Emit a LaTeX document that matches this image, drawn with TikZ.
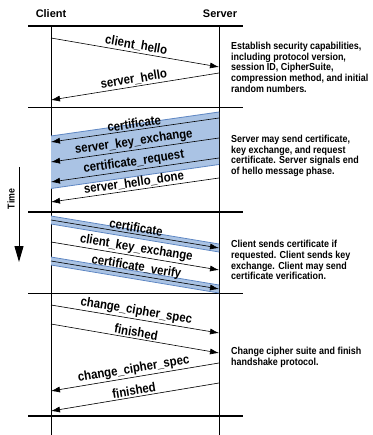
\documentclass[tikz,border=0pt]{standalone}
\usepackage{fontspec}
\setmainfont{Liberation Sans}
\newfontfamily\condfont[FakeStretch=0.88]{Liberation Sans}
\usetikzlibrary{arrows.meta}
\definecolor{bandfill}{RGB}{170,195,228}
\definecolor{bandedge}{RGB}{95,135,195}
\begin{document}
\begin{tikzpicture}[x=1bp,y=1bp,
  msg/.style={line width=0.6bp,-{Latex[length=9bp,width=6bp]}},
  lbl/.style={font=\condfont\bfseries\fontsize{13}{13}\selectfont, midway, sloped, above, inner sep=1.5bp},
  desc/.style={font=\condfont\bfseries\fontsize{10.2}{10.8}\selectfont, align=left, anchor=west, inner sep=0pt},
  head/.style={font=\bfseries\fontsize{11}{12}\selectfont, inner sep=0pt},
  hline/.style={line width=1.3bp},
  vline/.style={line width=0.6bp},
  bandline/.style={draw=bandedge, line width=0.8bp},
]
\useasboundingbox (0,0) rectangle (372,-435);

% headings
\node[head] (client) at (51,-14) {Client};
\node[head] (server) at (220,-14) {Server};

% lifelines
\coordinate (ctop) at (51,-26);
\coordinate (cbot) at (51,-435);
\coordinate (stop) at (219,-26);
\coordinate (sbot) at (219,-435);
\draw[vline] (ctop) -- (cbot);
\draw[vline] (stop) -- (sbot);

% phase separators
\foreach \i/\y in {1/-26,2/-107.5,3/-212,4/-293.5,5/-416}{
  \coordinate (h\i a) at (28,\y);
  \coordinate (h\i b) at (243,\y);
  \draw[hline] (h\i a) -- (h\i b);
}

% bands
\coordinate (b2a) at (51,-136);   \coordinate (b2b) at (219,-112);
\coordinate (b2c) at (219,-164.5);\coordinate (b2d) at (51,-188.5);
\fill[bandfill] (b2a) -- (b2b) -- (b2c) -- (b2d) -- cycle;
\draw[bandline] (b2a) -- (b2b);
\draw[bandline] (b2d) -- (b2c);

\coordinate (b3a) at (51,-216);  \coordinate (b3b) at (219,-244);
\coordinate (b3c) at (219,-252); \coordinate (b3d) at (51,-224);
\fill[bandfill] (b3a) -- (b3b) -- (b3c) -- (b3d) -- cycle;
\draw[bandline] (b3a) -- (b3b);
\draw[bandline] (b3d) -- (b3c);

\coordinate (b4a) at (51,-257);  \coordinate (b4b) at (219,-285);
\coordinate (b4c) at (219,-293); \coordinate (b4d) at (51,-265);
\fill[bandfill] (b4a) -- (b4b) -- (b4c) -- (b4d) -- cycle;
\draw[bandline] (b4a) -- (b4b);
\draw[bandline] (b4d) -- (b4c);

% phase 1
\coordinate (c1) at (51,-38);  \coordinate (s1) at (219,-67);
\coordinate (s2) at (219,-73); \coordinate (c2) at (51,-100);
\draw[msg] (c1) -- node[lbl]{client\_hello} (s1);
\draw[msg] (s2) -- node[lbl]{server\_hello} (c2);

% phase 2
\coordinate (s3) at (219,-118); \coordinate (c3) at (51,-142);
\coordinate (s4) at (219,-138); \coordinate (c4) at (51,-162);
\coordinate (s5) at (219,-158); \coordinate (c5) at (51,-182);
\coordinate (s6) at (219,-178); \coordinate (c6) at (51,-202);
\draw[msg] (s3) -- node[lbl]{certificate} (c3);
\draw[msg] (s4) -- node[lbl]{server\_key\_exchange} (c4);
\draw[msg] (s5) -- node[lbl]{certificate\_request} (c5);
\draw[msg] (s6) -- node[lbl]{server\_hello\_done} (c6);

% phase 3
\coordinate (c7) at (51,-220); \coordinate (s7) at (219,-248);
\coordinate (c8) at (51,-242); \coordinate (s8) at (219,-270);
\coordinate (c9) at (51,-261); \coordinate (s9) at (219,-289);
\draw[msg] (c7) -- node[lbl]{certificate} (s7);
\draw[msg] (c8) -- node[lbl]{client\_key\_exchange} (s8);
\draw[msg] (c9) -- node[lbl]{certificate\_verify} (s9);

% phase 4
\coordinate (c10) at (51,-305); \coordinate (s10) at (219,-333);
\coordinate (c11) at (51,-324); \coordinate (s11) at (219,-353);
\coordinate (s12) at (219,-363); \coordinate (c12) at (51,-391);
\coordinate (s13) at (219,-383); \coordinate (c13) at (51,-411);
\draw[msg] (c10) -- node[lbl]{change\_cipher\_spec} (s10);
\draw[msg] (c11) -- node[lbl]{finished} (s11);
\draw[msg] (s12) -- node[lbl]{change\_cipher\_spec} (c12);
\draw[msg] (s13) -- node[lbl]{finished} (c13);

% descriptions
\node[desc] (d1) at (231,-67.3) {Establish security capabilities,\\including protocol version,\\session ID, CipherSuite,\\compression method, and initial\\random numbers.};
\node[desc] (d2) at (231,-156) {Server may send certificate,\\key exchange, and request\\certificate. Server signals end\\of hello message phase.};
\node[desc] (d3) at (231,-260) {Client sends certificate if\\requested. Client sends key\\exchange. Client may send\\certificate verification.};
\node[desc] (d4) at (231,-357.5) {Change cipher suite and finish\\handshake protocol.};

% time axis
\node[rotate=90, font=\condfont\bfseries\fontsize{10}{10}\selectfont, inner sep=0pt] (time) at (11,-199) {Time};
\coordinate (ttop) at (19,-167);
\coordinate (tbot) at (19,-262);
\draw[line width=1bp, -{Triangle[length=16bp,width=9bp]}] (ttop) -- (tbot);
\end{tikzpicture}
\end{document}
